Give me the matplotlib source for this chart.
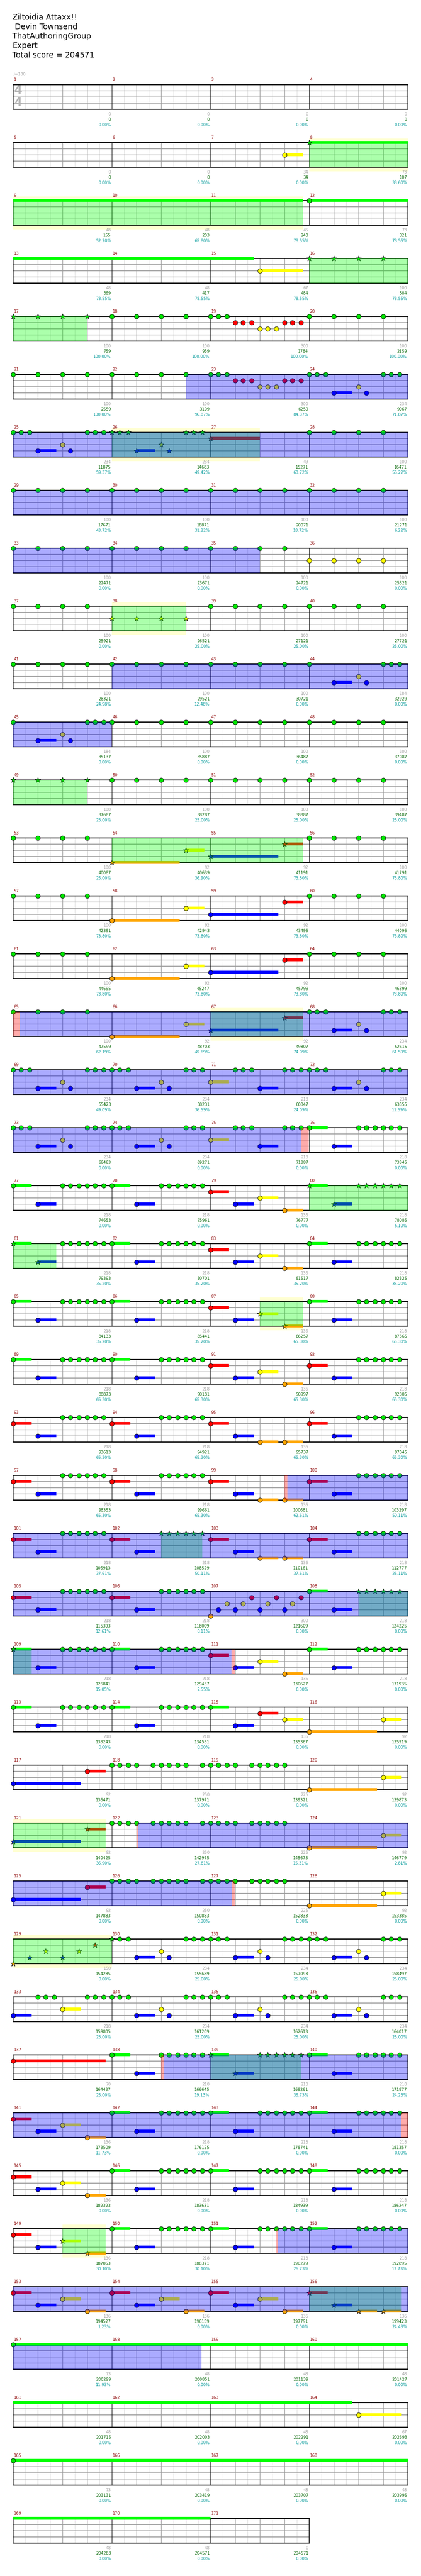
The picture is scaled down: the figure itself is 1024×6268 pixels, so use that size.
import matplotlib
matplotlib.use("Agg")
import matplotlib.pyplot as plt
from matplotlib.patches import Rectangle

plt.rcParams['font.family'] = ['DejaVu Sans']

# ---------------- data ----------------
TITLE_LINES = ["Ziltoidia Attaxx!!", " Devin Townsend", "ThatAuthoringGroup", "Expert",
               "Total score = 204571"]
TEMPO = "\u2669=180"
TIME_SIG = ("4", "4")
N_MEASURES = 171

MEASURE_SCORE = [
    0, 0, 0, 0,  0, 0, 34, 73,  48, 48, 45, 73,  48, 48, 67, 100,
    100, 100, 300, 100,  100, 100, 300, 234,  234, 234, 49, 100,  100, 100, 100, 100,
    100, 100, 100, 100,  100, 100, 100, 100,  100, 100, 100, 184,  184, 100, 100, 100,
    100, 100, 100, 100,  100, 92, 92, 100,  100, 92, 92, 100,  100, 92, 92, 100,
    100, 92, 92, 234,  234, 234, 218, 234,  234, 234, 218, 218,  218, 218, 136, 218,
    218, 218, 136, 218,  218, 218, 136, 218,  218, 218, 136, 218,  218, 218, 136, 218,
    218, 218, 136, 218,  218, 218, 136, 218,  218, 218, 300, 218,  218, 218, 136, 218,
    218, 218, 136, 92,  92, 250, 225, 92,  92, 250, 225, 92,  92, 250, 225, 92,
    150, 234, 234, 234,  218, 234, 234, 234,  70, 218, 218, 218,  136, 218, 218, 218,
    136, 218, 218, 218,  136, 218, 218, 218,  136, 136, 136, 136,  73, 48, 48, 48,
    48, 48, 48, 67,  73, 48, 48, 48,  48, 48, 0]

RUNNING_TOTAL = [
    0, 0, 0, 0,  0, 0, 34, 107,  155, 203, 248, 321,  369, 417, 484, 584,
    759, 959, 1784, 2159,  2559, 3109, 6259, 9067,  11875, 14683, 15271, 16471,
    17671, 18871, 20071, 21271,  22471, 23671, 24721, 25321,  25921, 26521, 27121, 27721,
    28321, 29521, 30721, 32929,  35137, 35887, 36487, 37087,  37687, 38287, 38887, 39487,
    40087, 40639, 41191, 41791,  42391, 42943, 43495, 44095,  44695, 45247, 45799, 46399,
    47599, 48703, 49807, 52615,  55423, 58231, 60847, 63655,  66463, 69271, 71887, 73345,
    74653, 75961, 76777, 78085,  79393, 80701, 81517, 82825,  84133, 85441, 86257, 87565,
    88873, 90181, 90997, 92305,  93613, 94921, 95737, 97045,  98353, 99661, 100681, 103297,
    105913, 108529, 110161, 112777,  115393, 118009, 121609, 124225,
    126841, 129457, 130627, 131935,  133243, 134551, 135367, 135919,
    136471, 137971, 139321, 139873,  140425, 142975, 145675, 146779,
    147883, 150883, 152833, 153385,  154285, 155689, 157093, 158497,
    159805, 161209, 162613, 164017,  164437, 166645, 169261, 171877,
    173509, 176125, 178741, 181357,  182323, 183631, 184939, 186247,
    187063, 188371, 190279, 192895,  194527, 196159, 197791, 199423,
    200299, 200851, 201139, 201427,  201715, 202003, 202291, 202693,
    203131, 203419, 203707, 203995,  204283, 204571, 204571]

SP_METER = [
    0, 0, 0, 0,  0, 0, 0, 38.60,  52.20, 65.80, 78.55, 78.55,  78.55, 78.55, 78.55, 78.55,
    100, 100, 100, 100,  100, 96.87, 84.37, 71.87,  59.37, 49.42, 68.72, 56.22,
    43.72, 31.22, 18.72, 6.22,  0, 0, 0, 0,  0, 25, 25, 25,  24.98, 12.48, 0, 0,
    0, 0, 0, 0,  25, 25, 25, 25,  25, 36.90, 73.80, 73.80,  73.80, 73.80, 73.80, 73.80,
    73.80, 73.80, 73.80, 73.80,  62.19, 49.69, 74.09, 61.59,  49.09, 36.59, 24.09, 11.59,
    0, 0, 0, 0,  0, 0, 0, 5.10,  35.20, 35.20, 35.20, 35.20,  35.20, 35.20, 65.30, 65.30,
    65.30, 65.30, 65.30, 65.30,  65.30, 65.30, 65.30, 65.30,  65.30, 65.30, 62.61, 50.11,
    37.61, 50.11, 37.61, 25.11,  12.61, 0.11, 0, 0,  15.05, 2.55, 0, 0,  0, 0, 0, 0,
    0, 0, 0, 0,  36.90, 27.81, 15.31, 2.81,  0, 0, 0, 0,  0, 25, 25, 25,
    25, 25, 25, 25,  25, 19.13, 36.73, 24.23,  11.73, 0, 0, 0,  0, 0, 0, 0,
    30.10, 30.10, 26.23, 13.73,  1.23, 0, 0, 24.43,  11.93, 0, 0, 0,  0, 0, 0, 0,
    0, 0, 0, 0,  0, 0, 0]

# notes: (measure, beats-in-measure); sustains: (measure, beat, length in beats)
GREEN_NOTES = [
    (12, (0,)), (18, (0, 1, 2, 3)), (19, (0, .333, .667)), (20, (0, 1, 2, 3)),
    (21, (0, 1, 2, 3)), (22, (0, 1, 2, 3)), (23, (0, .333, .667)),
    (24, (0, .333, .667, 3, 3.333, 3.667)), (25, (0, .333, .667, 3, 3.333, 3.667)),
    (28, (0, 1, 2, 3)), (29, (0, 1, 2, 3)), (30, (0, 1, 2, 3)), (31, (0, 1, 2, 3)),
    (32, (0, 1, 2, 3)), (33, (0, 1, 2, 3)), (34, (0, 1, 2, 3)), (35, (0, 1, 2, 3)),
    (37, (0, 1, 2, 3)), (39, (0, 1, 2, 3)), (40, (0, 1, 2, 3)),
    (41, (0, 1, 2, 3)), (42, (0, 1, 2, 3)), (43, (0, 1, 2, 3)),
    (44, (0, 3, 3.333, 3.667)), (45, (0, 3, 3.333, 3.667)),
    (46, (0, 1, 2, 3)), (47, (0, 1, 2, 3)), (48, (0, 1, 2, 3)),
    (50, (0, 1, 2, 3)), (51, (0, 1, 2, 3)), (52, (0, 1, 2, 3)), (53, (0, 1, 2, 3)),
    (56, (0, 1, 2, 3)), (57, (0, 1, 2, 3)), (60, (0, 1, 2, 3)), (61, (0, 1, 2, 3)),
    (64, (0, 1, 2, 3)), (65, (0, 1, 2, 3)),
    (68, (0, .333, .667, 3, 3.333, 3.667)), (69, (0, .333, .667, 3, 3.333, 3.667)),
    (70, (0, .333, .667, 3, 3.333, 3.667)), (71, (1, 1.333, 1.667, 3, 3.333, 3.667)),
    (72, (0, .333, .667, 3, 3.333, 3.667)), (73, (0, .333, .667, 3, 3.333, 3.667)),
    (74, (0, .333, .667, 3, 3.333, 3.667)), (75, (1, 1.333, 1.667, 3, 3.333, 3.667)),
    (76, (0, 2, 2.333, 2.667, 3, 3.333, 3.667)), (77, (0, 2, 2.333, 2.667, 3, 3.333, 3.667)),
    (78, (0, 2, 2.333, 2.667, 3, 3.333, 3.667)), (81, (2, 2.333, 2.667, 3, 3.333, 3.667)),
    (82, (0, 2, 2.333, 2.667, 3, 3.333, 3.667)), (84, (0, 2, 2.333, 2.667, 3, 3.333, 3.667)),
    (85, (0, 2, 2.333, 2.667, 3, 3.333, 3.667)), (86, (0, 2, 2.333, 2.667, 3, 3.333, 3.667)),
    (88, (0, 2, 2.333, 2.667, 3, 3.333, 3.667)), (89, (0, 2, 2.333, 2.667, 3, 3.333, 3.667)),
    (90, (0, 2, 2.333, 2.667, 3, 3.333, 3.667)),
    (92, (2, 2.333, 2.667, 3, 3.333, 3.667)), (93, (2, 2.333, 2.667, 3, 3.333, 3.667)),
    (94, (2, 2.333, 2.667, 3, 3.333, 3.667)), (96, (2, 2.333, 2.667, 3, 3.333, 3.667)),
    (97, (2, 2.333, 2.667, 3, 3.333, 3.667)), (98, (2, 2.333, 2.667, 3, 3.333, 3.667)),
    (100, (2, 2.333, 2.667, 3, 3.333, 3.667)), (101, (2, 2.333, 2.667, 3, 3.333, 3.667)),
    (104, (2, 2.333, 2.667, 3, 3.333, 3.667)), (105, (2, 2.333, 2.667, 3, 3.333, 3.667)),
    (106, (2, 2.333, 2.667, 3, 3.333, 3.667)), (108, (0,)),
    (109, (2, 2.333, 2.667, 3, 3.333, 3.667)), (110, (0, 2, 2.333, 2.667, 3, 3.333, 3.667)),
    (112, (0, 2, 2.333, 2.667, 3, 3.333, 3.667)), (113, (0, 2, 2.333, 2.667, 3, 3.333, 3.667)),
    (114, (0, 2, 2.333, 2.667, 3, 3.333, 3.667)), (115, (0,)),
    (118, (0, .333, .667, 1, 1.667, 2, 2.333, 2.667, 3, 3.667)),
    (119, (0, .333, .667, 1, 1.667, 2, 2.333, 2.667, 3)),
    (122, (0, .333, .667, 1, 1.667, 2, 2.333, 2.667, 3, 3.667)),
    (123, (0, .333, .667, 1, 1.667, 2, 2.333, 2.667, 3)),
    (126, (0, .333, .667, 1, 1.667, 2, 2.333, 2.667, 3, 3.667)),
    (127, (0, .333, .667, 1, 1.667, 2, 2.333, 2.667, 3)),
    (130, (.333, .667, 3, 3.333, 3.667)), (131, (0, .333, .667, 3, 3.333, 3.667)),
    (132, (0, .333, .667, 3, 3.333, 3.667)), (133, (1, 1.333, 1.667, 3, 3.333, 3.667)),
    (134, (0, .333, .667, 3, 3.333, 3.667)), (135, (0, .333, .667, 3, 3.333, 3.667)),
    (136, (0, .333, .667, 3, 3.333, 3.667)),
    (138, (0, 2, 2.333, 2.667, 3, 3.333, 3.667)), (140, (0, 2, 2.333, 2.667, 3, 3.333, 3.667)),
    (142, (0, 2, 2.333, 2.667, 3, 3.333, 3.667)), (143, (0, 2, 2.333, 2.667, 3, 3.333, 3.667)),
    (144, (0, 2, 2.333, 2.667, 3, 3.333, 3.667)), (146, (0, 2, 2.333, 2.667, 3, 3.333, 3.667)),
    (147, (0, 2, 2.333, 2.667, 3, 3.333, 3.667)), (148, (0, 2, 2.333, 2.667, 3, 3.333, 3.667)),
    (150, (0, 2, 2.333, 2.667, 3, 3.333, 3.667)), (151, (0, 2, 2.333, 2.667, 3, 3.333, 3.667)),
    (152, (0, 2, 2.333, 2.667, 3, 3.333, 3.667)), (157, (0,)), (165, (0,)),
]
GREEN_STARS = [
    (8, (0,)), (16, (0, 1, 2, 3)), (17, (0, 1, 2, 3)), (26, (0, .333, .667, 3, 3.333, 3.667)),
    (49, (0, 1, 2, 3)), (80, (0, 2, 2.333, 2.667, 3, 3.333, 3.667)), (81, (0,)),
    (102, (2, 2.333, 2.667, 3, 3.333, 3.667)), (108, (2, 2.333, 2.667, 3, 3.333, 3.667)),
    (109, (0,)), (130, (0,)), (139, (0, 2, 2.333, 2.667, 3, 3.333, 3.667)),
]
GREEN_SUST = [
    (8, 0, 15.75), (12, 0, 13.75), (76, 0, .75), (77, 0, .75), (78, 0, .75), (80, 0, .75),
    (81, 0, .75), (82, 0, .75), (84, 0, .75), (85, 0, .75), (86, 0, .75), (88, 0, .75),
    (89, 0, .75), (90, 0, .75), (108, 0, .75), (109, 0, .75), (110, 0, .75), (112, 0, .75),
    (113, 0, .75), (114, 0, .75), (115, 0, .75), (138, 0, .75), (139, 0, .75), (140, 0, .75),
    (142, 0, .75), (143, 0, .75), (144, 0, .75), (146, 0, .75), (147, 0, .75), (148, 0, .75),
    (150, 0, .75), (151, 0, .75), (152, 0, .75), (157, 0, 29.75), (165, 0, 24),
]

RED_NOTES = [
    (19, (1, 1.333, 1.667, 3, 3.333, 3.667)), (23, (1, 1.333, 1.667, 3, 3.333, 3.667)),
    (59, (3,)), (63, (3,)), (79, (0,)), (83, (0,)), (87, (0,)), (91, (0,)), (92, (0,)),
    (93, (0,)), (94, (0,)), (95, (0,)), (96, (0,)), (97, (0,)), (98, (0,)), (99, (0,)),
    (100, (0,)), (101, (0,)), (102, (0,)), (103, (0,)), (104, (0,)), (105, (0,)), (106, (0,)),
    (107, (1.667, 2.667, 3.667)), (111, (0,)), (115, (2,)), (117, (3,)), (125, (3,)),
    (137, (0,)), (141, (0,)), (145, (0,)), (149, (0,)), (153, (0,)), (154, (0,)), (155, (0,)),
]
RED_STARS = [(27, (0,)), (55, (3,)), (67, (3,)), (121, (3,)), (129, (3.333,)), (156, (0,))]
RED_SUST = [
    (27, 0, 2), (55, 3, .75), (59, 3, .75), (63, 3, .75), (67, 3, .75), (79, 0, .75),
    (83, 0, .75), (87, 0, .75), (91, 0, .75), (92, 0, .75), (93, 0, .75), (94, 0, .75),
    (95, 0, .75), (96, 0, .75), (97, 0, .75), (98, 0, .75), (99, 0, .75), (100, 0, .75),
    (101, 0, .75), (102, 0, .75), (103, 0, .75), (104, 0, .75), (105, 0, .75), (106, 0, .75),
    (111, 0, .75), (115, 2, .75), (117, 3, .75), (121, 3, .75), (125, 3, .75), (137, 0, 3.75),
    (141, 0, .75), (145, 0, .75), (149, 0, .75), (153, 0, .75), (154, 0, .75), (155, 0, .75),
    (156, 0, .75),
]

YELLOW_NOTES = [
    (7, (3,)), (15, (2,)), (19, (2, 2.333, 2.667)), (23, (2, 2.333, 2.667)), (24, (2,)),
    (25, (2,)), (36, (0, 1, 2, 3)), (44, (2,)), (45, (2,)), (58, (3,)), (62, (3,)), (66, (3,)),
    (68, (2,)), (69, (2,)), (70, (2,)), (71, (0,)), (72, (2,)), (73, (2,)), (74, (2,)),
    (75, (0,)), (79, (2,)), (83, (2,)), (91, (2,)), (107, (.667, 1.333, 2.333, 3.333)),
    (111, (2,)), (115, (3,)), (116, (3,)), (120, (3,)), (124, (3,)), (128, (3,)),
    (130, (2,)), (131, (2,)), (132, (2,)), (133, (2,)), (134, (2,)), (135, (2,)), (136, (2,)),
    (141, (2,)), (145, (2,)), (153, (2,)), (154, (2,)), (155, (2,)), (164, (2,)),
]
YELLOW_STARS = [(26, (2,)), (38, (0, 1, 2, 3)), (54, (3,)), (87, (2,)), (129, (1.333, 2.667)),
                (149, (2,))]
YELLOW_SUST = [
    (7, 3, .75), (15, 2, 1.75), (54, 3, .75), (58, 3, .75), (62, 3, .75), (66, 3, .75),
    (71, 0, .75), (75, 0, .75), (79, 2, .75), (83, 2, .75), (87, 2, .75), (91, 2, .75),
    (111, 2, .75), (115, 3, .75), (116, 3, .75), (120, 3, .75), (124, 3, .75), (128, 3, .75),
    (133, 2, .75), (141, 2, .75), (145, 2, .75), (149, 2, .75), (153, 2, .75), (154, 2, .75),
    (155, 2, .75), (164, 2, 1.75),
]

BLUE_NOTES = [
    (24, (1, 2.333)), (25, (1, 2.333)), (44, (1, 2.333)), (45, (1, 2.333)), (59, (0,)),
    (63, (0,)), (68, (1, 2.333)), (69, (1, 2.333)), (70, (1, 2.333)), (71, (2,)),
    (72, (1, 2.333)), (73, (1, 2.333)), (74, (1, 2.333)), (75, (2,)), (76, (1,)), (77, (1,)),
    (78, (1,)), (79, (1,)), (82, (1,)), (83, (1,)), (84, (1,)), (85, (1,)), (86, (1,)),
    (87, (1,)), (88, (1,)), (89, (1,)), (90, (1,)), (91, (1,)), (92, (1,)), (93, (1,)),
    (94, (1,)), (95, (1,)), (96, (1,)), (97, (1,)), (98, (1,)), (99, (1,)), (100, (1,)),
    (101, (1,)), (102, (1,)), (103, (1,)), (104, (1,)), (105, (1,)), (106, (1,)),
    (107, (.333, 1, 2, 3)), (108, (1,)), (109, (1,)), (110, (1,)), (111, (1,)), (112, (1,)),
    (113, (1,)), (114, (1,)), (115, (1,)), (117, (0,)), (125, (0,)), (130, (1, 2.333)),
    (131, (1, 2.333)), (132, (1, 2.333)), (133, (0,)), (134, (1, 2.333)), (135, (1, 2.333)),
    (136, (1, 2.333)), (138, (1,)), (140, (1,)), (141, (1,)), (142, (1,)), (143, (1,)),
    (144, (1,)), (145, (1,)), (146, (1,)), (147, (1,)), (148, (1,)), (149, (1,)), (150, (1,)),
    (151, (1,)), (152, (1,)), (153, (1,)), (154, (1,)), (155, (1,)),
]
BLUE_STARS = [(26, (1, 2.333)), (55, (0,)), (67, (0,)), (80, (1,)), (81, (1,)), (121, (0,)),
              (129, (.667, 2)), (139, (1,)), (156, (1,))]
BLUE_SUST = [
    (24, 1, .75), (25, 1, .75), (26, 1, .75), (44, 1, .75), (45, 1, .75), (55, 0, 2.75),
    (59, 0, 2.75), (63, 0, 2.75), (67, 0, 2.75), (68, 1, .75), (69, 1, .75), (70, 1, .75),
    (71, 2, .75), (72, 1, .75), (73, 1, .75), (74, 1, .75), (75, 2, .75), (76, 1, .75),
    (77, 1, .75), (78, 1, .75), (79, 1, .75), (80, 1, .75), (81, 1, .75), (82, 1, .75),
    (83, 1, .75), (84, 1, .75), (85, 1, .75), (86, 1, .75), (87, 1, .75), (88, 1, .75),
    (89, 1, .75), (90, 1, .75), (91, 1, .75), (92, 1, .75), (93, 1, .75), (94, 1, .75),
    (95, 1, .75), (96, 1, .75), (97, 1, .75), (98, 1, .75), (99, 1, .75), (100, 1, .75),
    (101, 1, .75), (102, 1, .75), (103, 1, .75), (104, 1, .75), (105, 1, .75), (106, 1, .75),
    (108, 1, .75), (109, 1, .75), (110, 1, .75), (111, 1, .75), (112, 1, .75), (113, 1, .75),
    (114, 1, .75), (115, 1, .75), (117, 0, 2.75), (121, 0, 2.75), (125, 0, 2.75),
    (130, 1, .75), (131, 1, .75), (132, 1, .75), (133, 0, .75), (134, 1, .75), (135, 1, .75),
    (136, 1, .75), (138, 1, .75), (139, 1, .75), (140, 1, .75), (141, 1, .75), (142, 1, .75),
    (143, 1, .75), (144, 1, .75), (145, 1, .75), (146, 1, .75), (147, 1, .75), (148, 1, .75),
    (149, 1, .75), (150, 1, .75), (151, 1, .75), (152, 1, .75), (153, 1, .75), (154, 1, .75),
    (155, 1, .75), (156, 1, .75),
]

ORANGE_NOTES = [
    (58, (0,)), (62, (0,)), (66, (0,)), (79, (3,)), (83, (3,)), (91, (3,)), (95, (2, 3)),
    (99, (2, 3)), (103, (2, 3)), (107, (0,)), (111, (3,)), (116, (0,)), (120, (0,)),
    (124, (0,)), (128, (0,)), (141, (3,)), (145, (3,)), (153, (3,)), (154, (3,)), (155, (3,)),
]
ORANGE_STARS = [(54, (0,)), (87, (3,)), (129, (0,)), (149, (3,)), (156, (2, 3))]
ORANGE_SUST = [
    (54, 0, 2.75), (58, 0, 2.75), (62, 0, 2.75), (66, 0, 2.75), (79, 3, .75), (83, 3, .75),
    (87, 3, .75), (91, 3, .75), (95, 2, .75), (95, 3, .75), (99, 2, .75), (99, 3, .75),
    (103, 2, .75), (103, 3, .75), (111, 3, .75), (116, 0, 2.75), (120, 0, 2.75),
    (124, 0, 2.75), (128, 0, 2.75), (141, 3, .75), (145, 3, .75), (149, 3, .75),
    (153, 3, .75), (154, 3, .75), (155, 3, .75), (156, 2, .75), (156, 3, .75),
]

# highlighted spans, in measure units (measure number + fraction)
GREEN_FILL = [(8.0, 11.9375), (16.0, 17.75), (26.0, 27.5), (38.0, 38.75), (49.0, 49.75),
              (54.0, 55.9375), (67.0, 67.9375), (80.0, 81.4375), (87.5, 87.9375),
              (102.5, 102.917), (108.5, 109.1875), (121.0, 121.9375), (129.0, 130.0),
              (139.0, 139.917), (149.5, 149.9375), (156.0, 156.9375)]
YELLOW_BAND = [(8.0, 11.9375), (26.0, 27.5), (38.0, 38.75), (67.0, 67.9375), (87.5, 87.9375),
               (121.0, 121.9375), (129.0, 130.0), (149.5, 149.9375)]
BLUE_FILL = [(22.75, 35.5), (42.0, 46.0), (65.068, 75.922), (99.783, 111.215),
             (122.27, 127.22), (138.527, 144.935), (151.685, 158.91)]
RED_FILL = [(45.995, 46.0), (65.0, 65.068), (75.922, 76.0), (99.75, 99.783),
            (111.215, 111.25), (122.25, 122.27), (127.22, 127.25), (138.5, 138.527),
            (144.935, 145.0), (151.667, 151.685)]

# ---------------- layout ----------------
W, H = 1024, 6268
TOP0, PITCH, STAFF_H, LEFT, MW = 205.7, 141.0, 60.0, 31.5, 240.0
LANE_PX = STAFF_H / 4.0

fig = plt.figure(figsize=(W / 100, H / 100), dpi=100)
fig.patch.set_facecolor('white')

rows = []
n_rows = (N_MEASURES + 3) // 4
for r in range(n_rows):
    m0 = 4 * r + 1
    n = min(4, N_MEASURES - m0 + 1)
    top = TOP0 + PITCH * r
    ax = fig.add_axes([LEFT / W, 1 - (top + STAFF_H) / H, n * MW / W, STAFF_H / H])
    ax.set_xlim(m0, m0 + n)
    ax.set_ylim(4, 0)
    ax.set_facecolor('none')
    ax.set_xticks([])
    ax.set_yticks([])
    for s in ax.spines.values():
        s.set_color('black')
        s.set_linewidth(1.2)
        s.set_zorder(2.5)
    ax.spines['top'].set_linewidth(1.7)
    ax.spines['bottom'].set_linewidth(1.7)
    ax.add_patch(Rectangle((m0, 0), n, 4, facecolor='white', lw=0, zorder=0.3))
    for m in range(m0, m0 + n):
        for k in range(1, 8):
            if k % 2 == 0:
                ax.axvline(m + k / 8, color='#9a9a9a', lw=1.0, zorder=1.0)
            else:
                ax.axvline(m + k / 8, color='#dcdcdc', lw=0.8, zorder=0.9)
        if m > m0:
            ax.axvline(m, color='black', lw=0.8, zorder=1.3)
    for y in (1, 2, 3):
        ax.axhline(y, color='#9a9a9a', lw=1.3, zorder=1.1)
    rows.append((ax, m0, n))


def spans(x0, x1):
    for ax, m0, n in rows:
        a, b = max(x0, m0), min(x1, m0 + n)
        if b > a:
            yield ax, a, b


def row_axes(pos):
    r = int((pos - 1) // 4)
    r = max(0, min(r, len(rows) - 1))
    return rows[r][0]


for x0, x1 in YELLOW_BAND:
    for ax, a, b in spans(x0, x1):
        ax.add_patch(Rectangle((a, -0.68), b - a, 5.36, facecolor='#ffffd2', lw=0,
                               zorder=0.1, clip_on=False))
for x0, x1 in GREEN_FILL:
    for ax, a, b in spans(x0, x1):
        ax.axvspan(a, b, color=(0, 1, 0), alpha=0.33, lw=0, zorder=6)
for x0, x1 in BLUE_FILL:
    for ax, a, b in spans(x0, x1):
        ax.axvspan(a, b, color=(0, 0, 1), alpha=0.33, lw=0, zorder=7)
for x0, x1 in RED_FILL:
    for ax, a, b in spans(x0, x1):
        ax.axvspan(a, b, color=(1, 0, 0), alpha=0.33, lw=0, zorder=7)

LANES = [
    (0, '#00e600', '#00ff00', GREEN_NOTES, GREEN_STARS, GREEN_SUST),
    (1, '#ff0000', '#ff0000', RED_NOTES, RED_STARS, RED_SUST),
    (2, '#ffff00', '#ffff00', YELLOW_NOTES, YELLOW_STARS, YELLOW_SUST),
    (3, '#0000ff', '#0000ff', BLUE_NOTES, BLUE_STARS, BLUE_SUST),
    (4, '#ffa500', '#ffa500', ORANGE_NOTES, ORANGE_STARS, ORANGE_SUST),
]
SUS_H = 7.0 / LANE_PX
for lane, head_c, sus_c, notes, stars, sust in LANES:
    for m, b, length in sust:
        x0 = m + b / 4.0
        x1 = x0 + length / 4.0
        for ax, a, bb in spans(x0, x1):
            ax.add_patch(Rectangle((a, lane - SUS_H / 2), bb - a, SUS_H, facecolor=sus_c,
                                   lw=0, zorder=3, clip_on=False))
    for group, marker, size in ((notes, 'o', 62), (stars, '*', 95)):
        for m, beats in group:
            for b in beats:
                pos = m + b / 4.0
                ax = row_axes(pos)
                ax.scatter([pos], [lane], s=size, marker=marker, c=head_c,
                           edgecolors='black', linewidths=0.7, zorder=4, clip_on=False)

# measure labels and numbers
for i in range(N_MEASURES):
    m = i + 1
    ax = row_axes(m + 0.5)
    ax.text(m + 2.0 / MW, -11.5 / LANE_PX, str(m), color='#8b0000', fontsize=7,
            ha='left', va='center')
    xr = m + 1 - 1.5 / MW
    ax.text(xr, 4 + 12.5 / LANE_PX, str(MEASURE_SCORE[i]), color='#a0a0a0', fontsize=7,
            ha='right', va='center')
    ax.text(xr, 4 + 25.5 / LANE_PX, str(RUNNING_TOTAL[i]), color='#006400', fontsize=7,
            ha='right', va='center')
    ax.text(xr, 4 + 38.5 / LANE_PX, '%.2f%%' % SP_METER[i], color='#009999', fontsize=7,
            ha='right', va='center')

ax0 = rows[0][0]
ax0.text(1 + 13.3 / MW, 0.95, TIME_SIG[0], color='#b4b4b4', fontsize=20, fontweight='bold',
         ha='center', va='center', zorder=2)
ax0.text(1 + 13.3 / MW, 2.95, TIME_SIG[1], color='#b4b4b4', fontsize=20, fontweight='bold',
         ha='center', va='center', zorder=2)

for j, line in enumerate(TITLE_LINES):
    fig.text(30 / W, 1 - (42.3 + 23.0 * j) / H, line, fontsize=13.5, color='black',
             ha='left', va='center')
fig.text(31 / W, 1 - 181 / H, TEMPO, fontsize=7, color='#a0a0a0', ha='left', va='center')

fig.savefig('out.png', dpi=100, facecolor='white')
